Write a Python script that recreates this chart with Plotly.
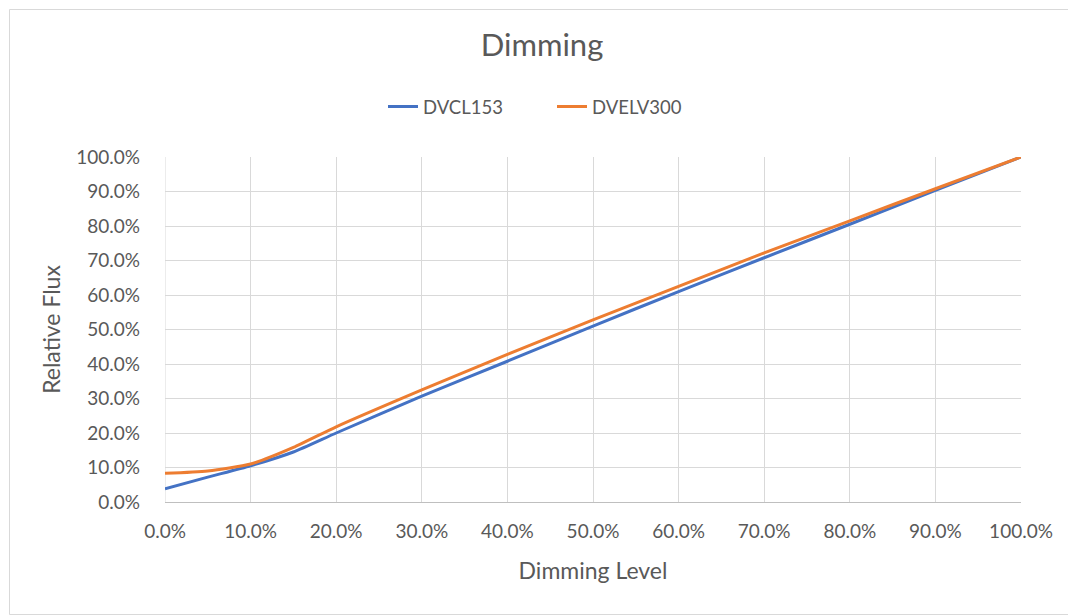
import plotly.graph_objects as go

dimming_level = [0.0, 0.05, 0.10, 0.15, 0.20, 0.30, 0.40, 0.50, 0.60, 0.70, 0.80, 0.90, 1.00]
dvcl153 = [0.038, 0.072, 0.105, 0.145, 0.200, 0.307, 0.408, 0.510, 0.610, 0.708, 0.805, 0.903, 1.000]
dvelv300 = [0.083, 0.090, 0.110, 0.158, 0.218, 0.325, 0.428, 0.528, 0.625, 0.722, 0.815, 0.908, 1.000]

OFF = 8  # page body margin
W, H = 1076 - OFF, 616 - OFF
ml, mr, mt, mb = 165 - OFF, 55, 157 - OFF, 114
pw, ph = W - ml - mr, H - mt - mb

fig = go.Figure()
fig.add_trace(go.Scatter(x=dimming_level, y=dvcl153, mode="lines", name="DVCL153",
                         line=dict(color="#4472C4", width=3, shape="spline", smoothing=0.6),
                         cliponaxis=False))
fig.add_trace(go.Scatter(x=dimming_level, y=dvelv300, mode="lines", name="DVELV300",
                         line=dict(color="#ED7D31", width=3, shape="spline", smoothing=0.6),
                         cliponaxis=False))

font = "Lato, Open Sans, sans-serif"
fig.update_layout(
    width=W, height=H,
    margin=dict(l=ml, r=mr, t=mt, b=mb),
    paper_bgcolor="white", plot_bgcolor="white",
    font=dict(family=font, color="#595959", size=19),
    title=dict(text="Dimming", x=0.5, xanchor="center", y=1 - (45 - OFF) / H, yanchor="middle",
               font=dict(size=31, color="#595959")),
    legend=dict(orientation="h", x=0.5 - 41 / pw, xanchor="center", y=1 + (mt - (107 - OFF)) / ph,
                yanchor="middle", font=dict(size=18.5, color="#595959"),
                entrywidth=124, entrywidthmode="pixels"),
    showlegend=True,
)
fig.update_xaxes(range=[0, 1], tickvals=[i / 10 for i in range(11)], tickformat=".1%",
                 showgrid=True, gridcolor="#D9D9D9", gridwidth=1,
                 showline=True, linecolor="#BFBFBF", linewidth=1, zeroline=False,
                 ticks="", ticklabelstandoff=12,
                 title=dict(text="Dimming Level", font=dict(size=23, color="#595959"), standoff=22))
fig.update_yaxes(range=[0, 1], tickvals=[i / 10 for i in range(11)], tickformat=".1%",
                 showgrid=True, gridcolor="#D9D9D9", gridwidth=1,
                 showline=False, zeroline=False, ticks="", ticklabelstandoff=24,
                 title=dict(text="Relative Flux", font=dict(size=23, color="#595959"), standoff=9))
fig.add_shape(type="line", xref="x", yref="paper", x0=0, x1=0, y0=0, y1=1,
              line=dict(color="#D9D9D9", width=1), layer="below")
fig.add_shape(type="rect", xref="paper", yref="paper",
              x0=-(ml - 1.5) / pw, x1=1 + (mr - 1.5) / pw,
              y0=-(mb - 1.5) / ph, y1=1 + (mt - 1.5) / ph,
              line=dict(color="#D9D9D9", width=1))

fig.write_html("out.html")
